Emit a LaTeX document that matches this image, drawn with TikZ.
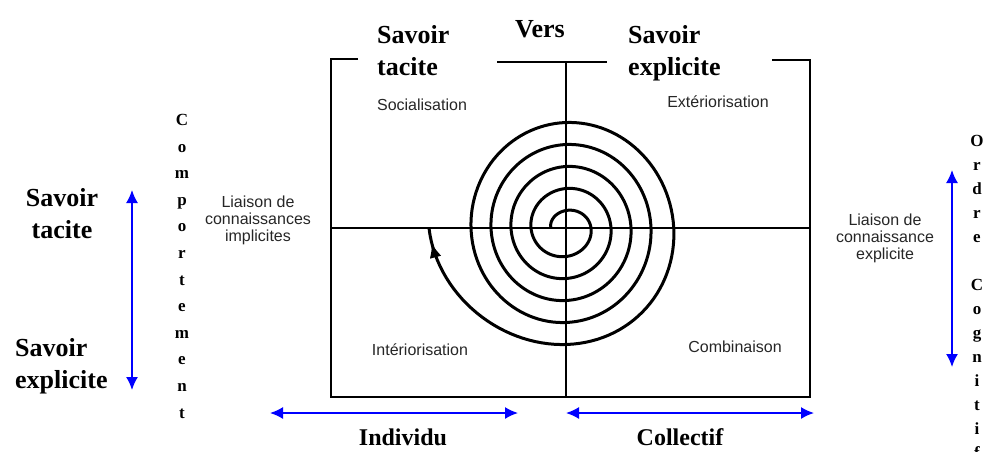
\documentclass[tikz,border=0pt]{standalone}
\usepackage{fontspec}
\setmainfont{Liberation Serif}
\newfontfamily\labelfont{Liberation Sans}
\usetikzlibrary{arrows.meta,decorations.markings}

\begin{document}
\begin{tikzpicture}[x=1pt,y=1pt,
  bigtxt/.style={font=\fontsize{26}{32}\selectfont\bfseries, inner sep=0pt},
  smalltxt/.style={font=\labelfont\fontsize{16}{17}\selectfont, align=center, inner sep=0pt, text=black!85},
  bluearrow/.style={blue, line width=1.6pt, {Latex[length=13pt,width=12pt]}-{Latex[length=13pt,width=12pt]}},
  spiralline/.style={line width=3pt, postaction={decorate},
    decoration={markings, mark=at position -14pt with {\arrow{Latex[length=15pt,width=12pt]}}}}]
\useasboundingbox (0,0) rectangle (985,-451);
\draw[line width=2pt] (358,-59) -- (331,-59) -- (331,-397) -- (810,-397) -- (810,-60) -- (772,-60);
\draw[line width=2pt] (497,-62) -- (607,-62);
\draw[line width=1.5pt] (566,-62) -- (566,-397);
\draw[line width=1.5pt] (331,-228) -- (810,-228);
\draw[spiralline] plot[domain=0:5, samples=601, variable=\t]
  ({566+(15+20*\t+22*max(0,\t-4)*max(0,\t-4)*max(0,\t-4))*cos(180-360*\t)}, {-228+(12+22*\t)*sin(180-360*\t)});

\node[bigtxt, align=left, anchor=north west] (tacitetop) at (377,-25) {Savoir\\tacite};
\node[bigtxt, anchor=center] (vers) at (540,-29) {Vers};
\node[bigtxt, align=left, anchor=north west] (explicitetop) at (628,-25) {Savoir\\explicite};
\node[bigtxt, align=center, anchor=north] (tacitegauche) at (62,-188) {Savoir\\tacite};
\node[bigtxt, align=left, anchor=north west] (explicitegauche) at (15,-338) {Savoir\\explicite};

\node[smalltxt] (social) at (422,-105) {Socialisation};
\node[smalltxt] (exter) at (718,-102) {Extériorisation};
\node[smalltxt] (inter) at (420,-350) {Intériorisation};
\node[smalltxt] (combi) at (735,-347) {Combinaison};
\node[smalltxt] (liaisonimp) at (258,-220) {Liaison de\\connaissances\\implicites};
\node[smalltxt] (liaisonexp) at (885,-238) {Liaison de\\connaissance\\explicite};

\node[font=\fontsize{17}{26.6}\selectfont\bfseries, align=center, inner sep=0pt, anchor=north] (comportement)
  at (182,-114) {C\\o\\m\\p\\o\\r\\t\\e\\m\\e\\n\\t};
\node[font=\fontsize{17}{24}\selectfont\bfseries, align=center, inner sep=0pt, anchor=north] (ordre)
  at (977,-135) {O\\r\\d\\r\\e\\[24pt]C\\o\\g\\n\\i\\t\\i\\f};

\coordinate (gauchehaut) at (132,-190);
\coordinate (gauchebas) at (132,-390);
\coordinate (droitehaut) at (952,-170);
\coordinate (droitebas) at (952,-367);
\coordinate (indivg) at (270,-413);
\coordinate (indivd) at (518,-413);
\coordinate (collg) at (566,-413);
\coordinate (colld) at (814,-413);
\draw[bluearrow] (gauchehaut) -- (gauchebas);
\draw[bluearrow] (droitehaut) -- (droitebas);
\draw[bluearrow] (indivg) -- (indivd);
\draw[bluearrow] (collg) -- (colld);

\node[font=\fontsize{24}{28}\selectfont\bfseries] (individu) at (403,-437) {Individu};
\node[font=\fontsize{24}{28}\selectfont\bfseries] (collectif) at (680,-437) {Collectif};
\end{tikzpicture}
\end{document}
